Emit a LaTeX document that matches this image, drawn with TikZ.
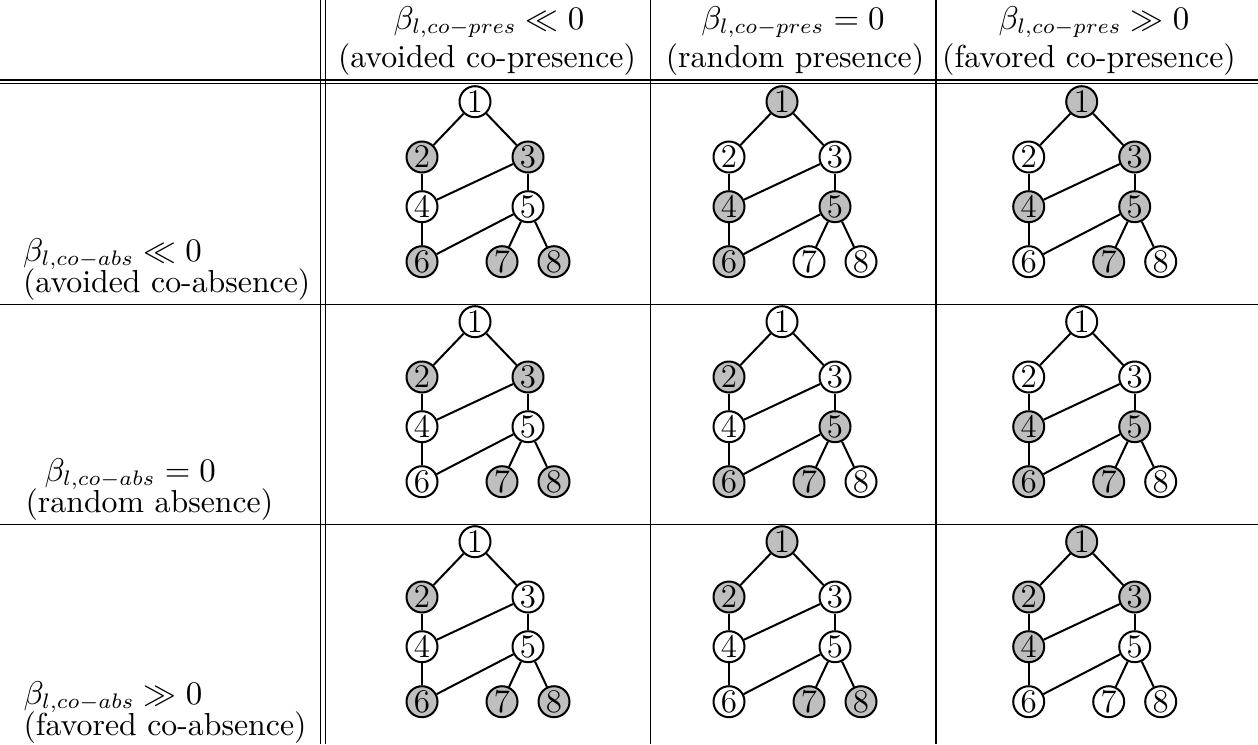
\documentclass[tikz,border=0pt]{standalone}
\tikzset{
  rule/.style={line width=0.42pt, black},
  gnode/.style={circle, draw, line width=0.67pt, inner sep=0pt, minimum size=10.33pt, font=\fontsize{11}{13}\selectfont},
  wn/.style={gnode, fill=white},
  gn/.style={gnode, fill=black!25},
  edge/.style={line width=0.67pt},
  txt/.style={inner sep=0pt, font=\fontsize{10.6}{12.7}\selectfont},
}
\newcommand\tree[9]{%
  \node[#2] (#1-1) at (0,0) {1};
  \node[#3] (#1-2) at (-53,55.3) {2};
  \node[#4] (#1-3) at (53,55.3) {3};
  \node[#5] (#1-4) at (-53,105) {4};
  \node[#6] (#1-5) at (53,105) {5};
  \node[#7] (#1-6) at (-53,160) {6};
  \node[#8] (#1-7) at (27,160) {7};
  \node[#9] (#1-8) at (79,160) {8};
  \draw[edge] (#1-1) -- (#1-2);
  \draw[edge] (#1-1) -- (#1-3);
  \draw[edge] (#1-2) -- (#1-4);
  \draw[edge] (#1-3) -- (#1-4);
  \draw[edge] (#1-3) -- (#1-5);
  \draw[edge] (#1-4) -- (#1-6);
  \draw[edge] (#1-5) -- (#1-6);
  \draw[edge] (#1-5) -- (#1-7);
  \draw[edge] (#1-5) -- (#1-8);
}
\begin{document}
\begin{tikzpicture}[x=0.33333pt,y=-0.33333pt]
\useasboundingbox (0,0) rectangle (1258,744);
% table rules
\draw[rule] (0,80) -- (1258,80);
\draw[rule] (0,83.6) -- (1258,83.6);
\draw[rule] (0,304.3) -- (1258,304.3);
\draw[rule] (0,524.3) -- (1258,524.3);
\draw[rule] (320.8,0) -- (320.8,744);
\draw[rule] (325.5,0) -- (325.5,744);
\draw[rule] (650.7,0) -- (650.7,744);
\draw[rule] (936,0) -- (936,744);
% header
\node[txt, anchor=base] (h1a) at (489,29) {$\beta_{l,co-pres} \ll 0$};
\node[txt, anchor=base] (h1b) at (487,67) {(avoided co-presence)};
\node[txt, anchor=base] (h2a) at (793,29) {$\beta_{l,co-pres} = 0$};
\node[txt, anchor=base] (h2b) at (795,67) {(random presence)};
\node[txt, anchor=base] (h3a) at (1094,29) {$\beta_{l,co-pres} \gg 0$};
\node[txt, anchor=base] (h3b) at (1089,67) {(favored co-presence)};
% row labels
\node[txt, anchor=base west] (r1a) at (22.5,261) {$\beta_{l,co-abs} \ll 0$};
\node[txt, anchor=base west] (r1b) at (22.5,292) {(avoided co-absence)};
\node[txt, anchor=base west] (r2a) at (44,481) {$\beta_{l,co-abs} = 0$};
\node[txt, anchor=base west] (r2b) at (25,512) {(random absence)};
\node[txt, anchor=base west] (r3a) at (23,704) {$\beta_{l,co-abs} \gg 0$};
\node[txt, anchor=base west] (r3b) at (23,735) {(favored co-absence)};
% row 1
\begin{scope}[shift={(475,101.7)}]
\tree{a}{wn}{gn}{gn}{wn}{wn}{gn}{gn}{gn}
\end{scope}
\begin{scope}[shift={(782,101.7)}]
\tree{b}{gn}{wn}{wn}{gn}{gn}{gn}{wn}{wn}
\end{scope}
\begin{scope}[shift={(1081.7,101.7)}]
\tree{c}{gn}{wn}{gn}{gn}{gn}{wn}{gn}{wn}
\end{scope}
% row 2
\begin{scope}[shift={(475,321.7)}]
\tree{d}{wn}{gn}{gn}{wn}{wn}{wn}{gn}{gn}
\end{scope}
\begin{scope}[shift={(782,321.7)}]
\tree{e}{wn}{gn}{wn}{wn}{gn}{gn}{gn}{wn}
\end{scope}
\begin{scope}[shift={(1081.7,321.7)}]
\tree{f}{wn}{wn}{wn}{gn}{gn}{gn}{gn}{wn}
\end{scope}
% row 3
\begin{scope}[shift={(475,541.7)}]
\tree{g}{wn}{gn}{wn}{wn}{wn}{gn}{gn}{gn}
\end{scope}
\begin{scope}[shift={(782,541.7)}]
\tree{h}{gn}{gn}{wn}{wn}{wn}{wn}{gn}{gn}
\end{scope}
\begin{scope}[shift={(1081.7,541.7)}]
\tree{i}{gn}{gn}{gn}{gn}{wn}{wn}{wn}{wn}
\end{scope}
\end{tikzpicture}
\end{document}
